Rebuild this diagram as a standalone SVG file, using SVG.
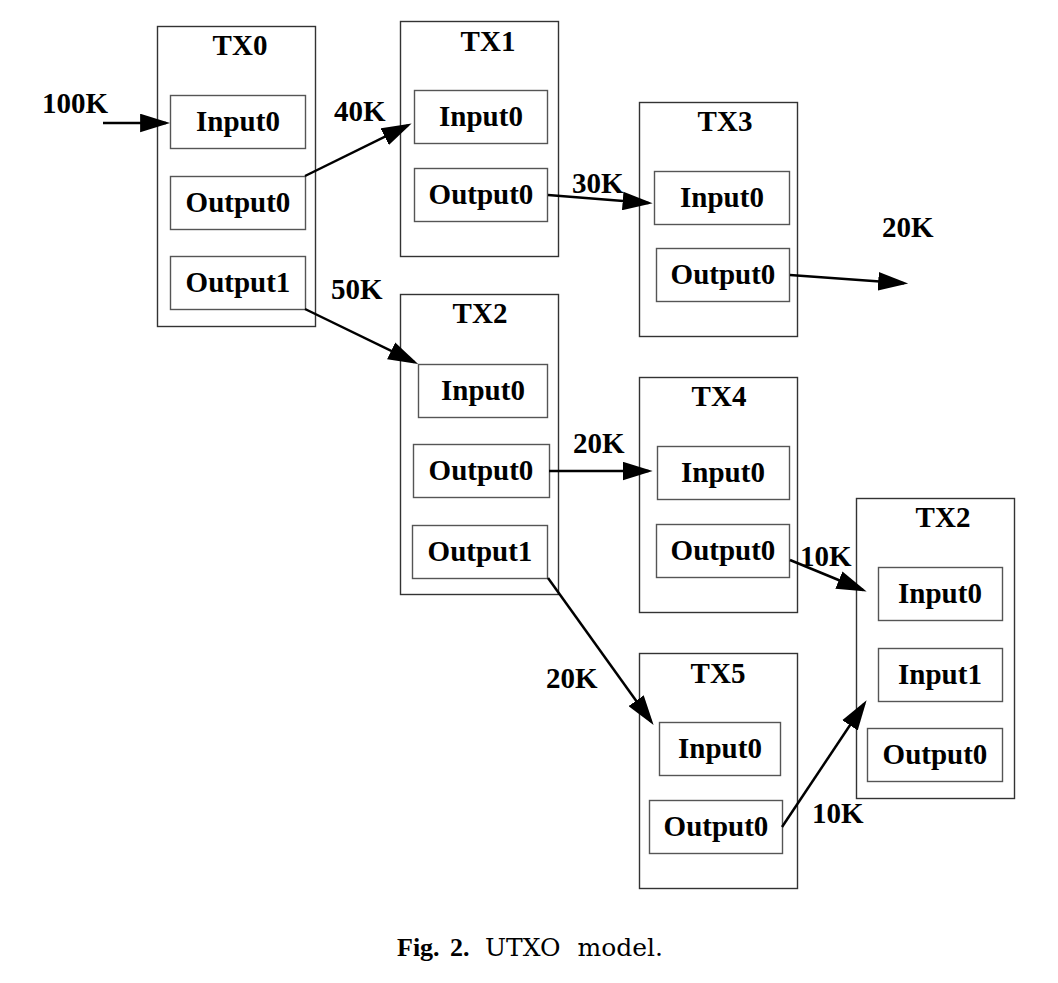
<svg xmlns="http://www.w3.org/2000/svg" width="1058" height="983" viewBox="0 0 1058 983">
<style>
.tx{fill:#fff;stroke:#333;stroke-width:1.4}
.port{fill:#fff;stroke:#555;stroke-width:1.4}
.lbl{font-family:"Liberation Serif","Times New Roman",serif;font-weight:bold;font-size:29px;fill:#000;text-anchor:middle}
.val{font-family:"Liberation Serif","Times New Roman",serif;font-weight:bold;font-size:29px;fill:#000}
.conn{stroke:#000;stroke-width:2.5;fill:none;marker-end:url(#ah)}
.capb{font-family:"Liberation Serif","Times New Roman",serif;font-weight:bold;font-size:26px;fill:#000}
.cap{font-family:"DejaVu Serif",serif;font-size:25px;fill:#000}
</style>
<defs>
<marker id="ah" markerUnits="userSpaceOnUse" markerWidth="30" markerHeight="19" viewBox="0 0 29 18" refX="25" refY="9" orient="auto">
<path d="M0,0 L29,9 L0,18 z" fill="#000"/>
</marker>
</defs>
<rect width="1058" height="983" fill="#fff"/>

<g id="tx0">
<rect class="tx" x="157.5" y="26.5" width="158" height="300"/>
<text class="lbl" x="240" y="55">TX0</text>
<rect class="port" x="170.5" y="95.5" width="135" height="53"/>
<text class="lbl" x="238" y="131">Input0</text>
<rect class="port" x="170.5" y="176.5" width="135" height="53"/>
<text class="lbl" x="238" y="212">Output0</text>
<rect class="port" x="170.5" y="256.5" width="135" height="53"/>
<text class="lbl" x="238" y="292">Output1</text>
</g>

<g id="tx1">
<rect class="tx" x="400.5" y="21.5" width="158" height="235"/>
<text class="lbl" x="488" y="51">TX1</text>
<rect class="port" x="414.5" y="90.5" width="133" height="53"/>
<text class="lbl" x="481" y="126">Input0</text>
<rect class="port" x="414.5" y="168.5" width="133" height="53"/>
<text class="lbl" x="481" y="204">Output0</text>
</g>

<g id="tx3">
<rect class="tx" x="639.5" y="102.5" width="158" height="234"/>
<text class="lbl" x="725" y="131">TX3</text>
<rect class="port" x="654.5" y="171.5" width="135" height="53"/>
<text class="lbl" x="722" y="207">Input0</text>
<rect class="port" x="656.5" y="248.5" width="133" height="53"/>
<text class="lbl" x="723" y="284">Output0</text>
</g>

<g id="tx2">
<rect class="tx" x="400.5" y="294.5" width="158" height="300"/>
<text class="lbl" x="480" y="323">TX2</text>
<rect class="port" x="418.5" y="364.5" width="129" height="53"/>
<text class="lbl" x="483" y="400">Input0</text>
<rect class="port" x="413.5" y="444.5" width="136" height="53"/>
<text class="lbl" x="481" y="480">Output0</text>
<rect class="port" x="412.5" y="525.5" width="135" height="53"/>
<text class="lbl" x="480" y="561">Output1</text>
</g>

<g id="tx4">
<rect class="tx" x="639.5" y="377.5" width="158" height="235"/>
<text class="lbl" x="719" y="406">TX4</text>
<rect class="port" x="657.5" y="446.5" width="132" height="53"/>
<text class="lbl" x="723" y="482">Input0</text>
<rect class="port" x="656.5" y="524.5" width="133" height="53"/>
<text class="lbl" x="723" y="560">Output0</text>
</g>

<g id="tx5">
<rect class="tx" x="639.5" y="653.5" width="158" height="235"/>
<text class="lbl" x="718" y="683">TX5</text>
<rect class="port" x="659.5" y="722.5" width="121" height="53"/>
<text class="lbl" x="720" y="758">Input0</text>
<rect class="port" x="649.5" y="800.5" width="133" height="53"/>
<text class="lbl" x="716" y="836">Output0</text>
</g>

<g id="tx2b">
<rect class="tx" x="856.5" y="498.5" width="158" height="300"/>
<text class="lbl" x="943" y="527">TX2</text>
<rect class="port" x="878.5" y="567.5" width="124" height="53"/>
<text class="lbl" x="940" y="603">Input0</text>
<rect class="port" x="878.5" y="648.5" width="124" height="53"/>
<text class="lbl" x="940" y="684">Input1</text>
<rect class="port" x="867.5" y="728.5" width="135" height="53"/>
<text class="lbl" x="935" y="764">Output0</text>
</g>

<g id="connectors">
<line class="conn" x1="103" y1="123" x2="166" y2="123"/>
<line class="conn" x1="305" y1="176" x2="407.9" y2="125.3"/>
<line class="conn" x1="548" y1="195" x2="648.5" y2="203"/>
<line class="conn" x1="790" y1="275" x2="904" y2="283.2"/>
<line class="conn" x1="305" y1="309" x2="414.4" y2="362.2"/>
<line class="conn" x1="549" y1="471" x2="648.5" y2="471"/>
<line class="conn" x1="790" y1="560" x2="862.8" y2="590"/>
<line class="conn" x1="548" y1="578" x2="651.2" y2="721.7"/>
<line class="conn" x1="782" y1="827" x2="864.3" y2="703.8"/>
<text class="val" x="42" y="113">100K</text>
<text class="val" x="334" y="121">40K</text>
<text class="val" x="572" y="193">30K</text>
<text class="val" x="882" y="237">20K</text>
<text class="val" x="331" y="299">50K</text>
<text class="val" x="573" y="453">20K</text>
<text class="val" x="800" y="566">10K</text>
<text class="val" x="546" y="688">20K</text>
<text class="val" x="812" y="823">10K</text>
</g>

<g id="caption">
<text class="capb" x="397" y="956" word-spacing="4">Fig. 2.</text>
<text class="cap" x="485" y="956" word-spacing="9">UTXO model.</text>
</g>
</svg>
